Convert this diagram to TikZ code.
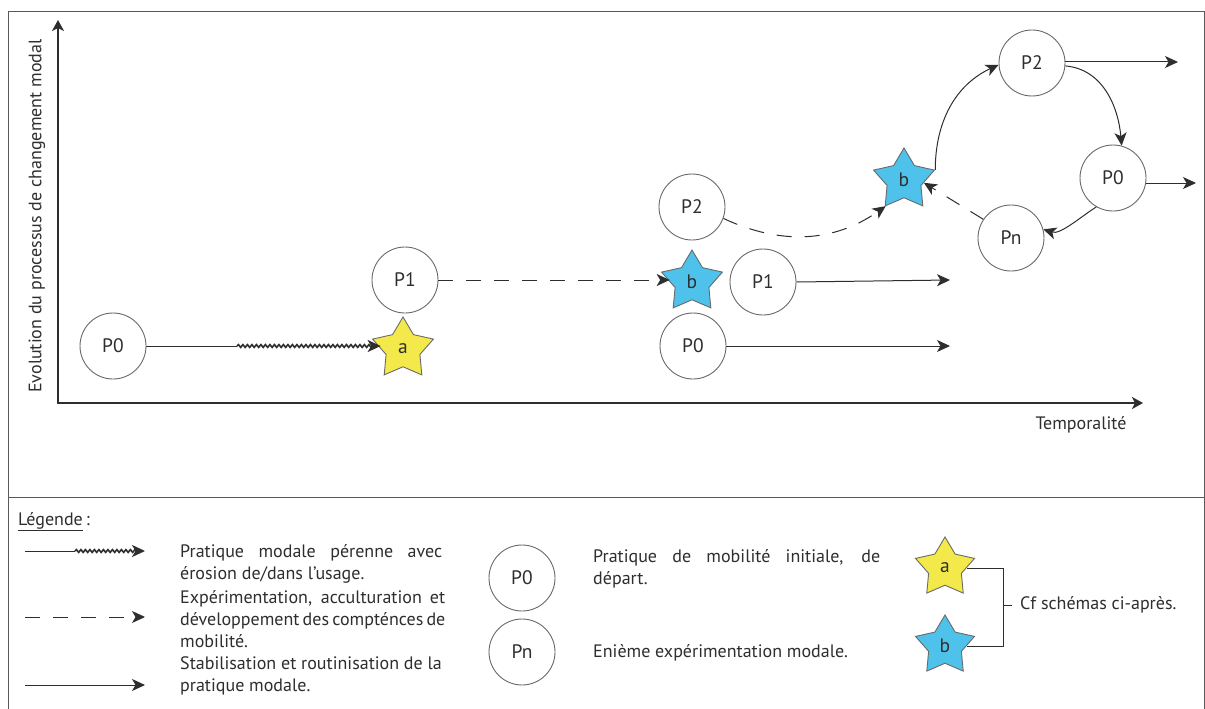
\documentclass[tikz,border=0pt]{standalone}
\usepackage{fontspec}
\setmainfont{PT Sans}
\usetikzlibrary{shapes.geometric,arrows.meta,decorations.pathmorphing}
\definecolor{ink}{HTML}{2E2E2E}
\definecolor{rim}{HTML}{6A6A6A}
\definecolor{yel}{HTML}{F4E94A}
\definecolor{blu}{HTML}{4EC2EB}
\begin{document}
\begin{tikzpicture}[x=1pt,y=-1pt,
  pnode/.style={circle, draw=rim, line width=0.9pt, minimum size=66pt, inner sep=0pt, fill=white,
    font=\fontsize{19.5}{19.5}\selectfont, text=ink},
  starnode/.style={star, star points=5, star point ratio=1.8, minimum size=64pt, inner sep=0pt,
    draw=rim, line width=0.9pt, font=\fontsize{19.5}{19.5}\selectfont, text=ink},
  ystar/.style={starnode, fill=yel},
  bstar/.style={starnode, fill=blu},
  conn/.style={draw=ink, line width=1pt, -{Stealth[length=13pt,width=12pt,inset=3.5pt]}},
  dashconn/.style={conn, dash pattern=on 15pt off 13pt},
  wavy/.style={conn, line width=1.6pt, decorate, decoration={snake, amplitude=1.4pt, segment length=4.5pt, post length=5pt}},
  axisline/.style={draw=ink, line width=2.8pt, -{Stealth[length=11pt,width=12pt,inset=3pt]}},
  frameline/.style={draw=gray!70!black, line width=1pt},
  txt/.style={font=\fontsize{18}{22}\selectfont, text=ink, inner sep=0pt},
]
\useasboundingbox (0,0) rectangle (1205,709);
\fill[white] (0,0) rectangle (1205,709);
% frame
\coordinate (fTL) at (8,12);
\coordinate (fTR) at (1204,12);
\coordinate (fBL) at (8,712);
\coordinate (fBR) at (1204,712);
\coordinate (dL) at (8,497);
\coordinate (dR) at (1204,497);
\draw[frameline] (fBL) -- (fTL) -- (fTR) -- (fBR);
\draw[frameline] (dL) -- (dR);

% axes
\coordinate (origin) at (58,403);
\coordinate (ytop) at (58,20);
\coordinate (xend) at (1143,403);
\draw[axisline] (origin) -- (ytop);
\draw[axisline] ([xshift=-1.4pt]origin) -- (xend);
\node[txt, anchor=center] (tlab) at (1081,425) {Temporalité};
\node[txt, rotate=90, anchor=center] (ylab) at (37,216) {Evolution du processus de changement modal};

% nodes
\node[pnode] (p0a) at (113,346) {P0};
\node[ystar] (sa) at (403,349) {a};
\node[pnode] (p1a) at (405,280) {P1};
\node[pnode] (p2m) at (692,207) {P2};
\node[bstar] (sb1) at (692,282) {b};
\node[pnode] (p1m) at (763,282) {P1};
\node[pnode] (p0m) at (693,346) {P0};
\node[bstar] (sb2) at (904,180) {b};
\node[pnode] (p2r) at (1032,63) {P2};
\node[pnode] (p0r) at (1113,178) {P0};
\node[pnode] (pn) at (1011,238) {Pn};

\coordinate (w1) at (237,346);
\coordinate (e1) at (950,280);
\coordinate (e2) at (950,346);
\coordinate (e3) at (1178,62);
\coordinate (e4) at (1196,183);

% connectors
\draw[draw=ink, line width=1pt] (p0a.east) -- (w1);
\draw[wavy] (w1) -- (sa.west |- w1);
\draw[dashconn] (p1a.east) -- (sb1.west |- p1a);
\draw[conn] (p1m.east) -- (e1);
\draw[conn] (p0m.east) -- (e2);
\draw[dashconn] (p2m.-20) to[out=-25, in=215] (sb2.235);
\draw[conn] (sb2.18) to[out=90, in=205] (p2r.183);
\draw[conn] (p2r.-5) to[out=-5, in=95] (p0r.75);
\draw[conn] (p0r.240) to[out=212, in=-18, looseness=0.8] (pn.15);
\draw[dashconn] (pn.146) -- (sb2.-8);
\draw[conn] (p2r.east |- e3) -- (e3);
\draw[conn] (p0r.east |- e4) -- (e4);

% legend
\node[txt, anchor=base west] (legt) at (18,525) {\underline{Légende}\,:};

\coordinate (l1a) at (25,551);
\coordinate (l1b) at (75,551);
\coordinate (l1c) at (145,551);
\draw[draw=ink, line width=1pt] (l1a) -- (l1b);
\draw[wavy] (l1b) -- (l1c);
\coordinate (l2a) at (25,617);
\coordinate (l2c) at (145,617);
\draw[dashconn] (l2a) -- (l2c);
\coordinate (l3a) at (25,685);
\coordinate (l3c) at (145,685);
\draw[conn] (l3a) -- (l3c);

\node[txt, anchor=base west] (t1a) at (180,557) {\makebox[262pt][s]{Pratique modale pérenne avec}};
\node[txt, anchor=base west] (t1b) at (180,579) {érosion de/dans l’usage.};
\node[txt, anchor=base west] (t2a) at (180,603) {\makebox[265pt][s]{Expérimentation, acculturation et}};
\node[txt, anchor=base west] (t2b) at (180,625) {\makebox[265pt][s]{développement des compténces de}};
\node[txt, anchor=base west] (t2c) at (180,647) {mobilité.};
\node[txt, anchor=base west] (t3a) at (180,669) {Stabilisation et routinisation de la};
\node[txt, anchor=base west] (t3b) at (180,691) {pratique modale.};

\node[pnode] (lp0) at (522,578) {P0};
\node[pnode] (lpn) at (522,652) {Pn};
\node[txt, anchor=base west] (t4a) at (593,562) {\makebox[287pt][s]{Pratique de mobilité initiale, de}};
\node[txt, anchor=base west] (t4b) at (593,584) {départ.};
\node[txt, anchor=base west] (t5) at (593,657) {Enième expérimentation modale.};

\node[ystar, minimum size=62pt] (lsa) at (945,568) {a};
\node[bstar, minimum size=62pt] (lsb) at (945,646) {b};
\coordinate (brk) at (1003,605);
\draw[draw=ink, line width=1pt] (lsa.east) -| (brk) |- (lsb.east);
\draw[draw=ink, line width=1pt] (brk) -- ++(9,0) coordinate (brt);
\node[txt, anchor=west] (cf) at (1020,605) {Cf schémas ci-après.};
\end{tikzpicture}
\end{document}
